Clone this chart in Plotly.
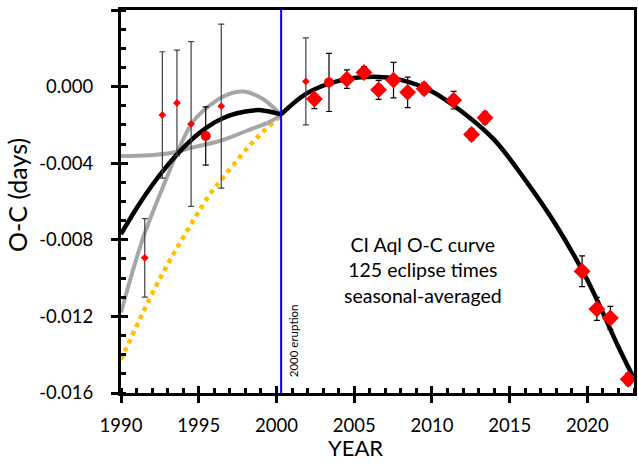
import plotly.graph_objects as go

# ---------------- data ----------------
# small diamonds (older, less precise seasons)
small_year = [1991.53, 1992.66, 1993.60, 1994.51, 1996.45, 2001.89]
small_oc   = [-0.00894, -0.00148, -0.00085, -0.00195, -0.00102, 0.00027]
small_err  = [0.00205, 0.00330, 0.00275, 0.00430, 0.00428, 0.00227]

# circles
circ_year = [1995.45, 2003.38]
circ_oc   = [-0.00258, 0.00022]
circ_err  = [0.00152, 0.00152]

# large diamonds
big_year = [2002.44, 2004.53, 2005.63, 2006.57, 2007.53, 2008.44, 2009.50,
            2011.40, 2012.55, 2013.42, 2019.66, 2020.61, 2021.48, 2022.63]
big_oc   = [-0.00065, 0.00039, 0.00074, -0.00017, 0.00034, -0.00030, -0.00011,
            -0.00071, -0.00250, -0.00163, -0.00964, -0.01161, -0.01208, -0.01528]
big_err  = [0.00050, 0.00048, 0.00030, 0.00050, 0.00093, 0.00080, 0.00030,
            0.00046, 0.00030, 0.00030, 0.00080, 0.00060, 0.00060, 0.00030]

# fitted curves
black_left_year = [1990.0, 1991.0, 1992.0, 1993.0, 1994.0, 1995.0, 1996.0, 1997.0,
                   1998.0, 1999.0, 2000.3]
black_left_oc   = [-0.00770, -0.00635, -0.00515, -0.00410, -0.00320, -0.00245, -0.00188,
                   -0.00150, -0.00130, -0.00123, -0.00145]

black_right_year = [2000.3, 2002.0, 2004.0, 2006.3, 2008.0, 2010.0, 2012.0, 2014.0,
                    2016.0, 2018.0, 2020.0, 2022.0, 2023.0]
black_right_oc   = [-0.00145, -0.00033, 0.00030, 0.00051, 0.00035, -0.00025, -0.00135,
                    -0.00277, -0.00487, -0.00725, -0.01010, -0.01360, -0.01525]

gray_steep_year = [1990.0, 1991.42, 1992.9, 1993.66, 1994.6, 1995.68, 1996.85, 1997.9,
                   1999.08, 2000.3]
gray_steep_oc   = [-0.01180, -0.00790, -0.00484, -0.00336, -0.00187, -0.00100, -0.00042,
                   -0.00026, -0.00062, -0.00148]

gray_flat_year = [1990.0, 1991.8, 1993.3, 1994.6, 1996.5, 1998.2, 1999.5, 2000.3]
gray_flat_oc   = [-0.00362, -0.00358, -0.00345, -0.00318, -0.00280, -0.00227, -0.00187, -0.00148]

orange_year = [1990.0, 1991.21, 1992.51, 1993.66, 1994.85, 1995.79, 1996.53, 1997.6,
               1998.45, 1999.19, 2000.15, 2000.3]
orange_oc   = [-0.01427, -0.01214, -0.01001, -0.00835, -0.00673, -0.00554, -0.00479,
               -0.00371, -0.00292, -0.00231, -0.00161, -0.00148]

ERUPTION_YEAR = 2000.3

y_tickvals = [0.004, 0.0, -0.004, -0.008, -0.012, -0.016]
y_ticktext = ["0.004", "0.000", "-0.004", "-0.008", "-0.012", "-0.016"]
x_tickvals = [1990, 1995, 2000, 2005, 2010, 2015, 2020]
x_ticktext = ["1990", "1995", "2000", "2005", "2010", "2015", "2020"]

X_RANGE = [1990, 2023]
Y_RANGE = [-0.016, 0.004]

FONT = "Lato, 'Open Sans', sans-serif"

# ---------------- figure ----------------
fig = go.Figure()

fig.add_trace(go.Scatter(x=orange_year, y=orange_oc, mode="lines",
                         line=dict(color="#FFC000", width=4.5, dash="dot", shape="spline"),
                         hoverinfo="skip"))
fig.add_trace(go.Scatter(x=gray_flat_year, y=gray_flat_oc, mode="lines",
                         line=dict(color="#A6A6A6", width=4, shape="spline"), hoverinfo="skip"))
fig.add_trace(go.Scatter(x=gray_steep_year, y=gray_steep_oc, mode="lines",
                         line=dict(color="#A6A6A6", width=4, shape="spline"), hoverinfo="skip"))
fig.add_trace(go.Scatter(x=black_left_year, y=black_left_oc, mode="lines",
                         line=dict(color="black", width=4.5, shape="spline"), hoverinfo="skip"))
fig.add_trace(go.Scatter(x=black_right_year, y=black_right_oc, mode="lines",
                         line=dict(color="black", width=4.5, shape="spline"), hoverinfo="skip"))

fig.add_trace(go.Scatter(x=small_year, y=small_oc, mode="markers", cliponaxis=False,
                         marker=dict(symbol="diamond", size=6, color="#FF0000"),
                         error_y=dict(type="data", array=small_err, color="#404040",
                                      thickness=1.2, width=3)))
fig.add_trace(go.Scatter(x=circ_year, y=circ_oc, mode="markers", cliponaxis=False,
                         marker=dict(symbol="circle", size=10, color="#FF0000"),
                         error_y=dict(type="data", array=circ_err, color="black",
                                      thickness=1.2, width=3)))
fig.add_trace(go.Scatter(x=big_year, y=big_oc, mode="markers", cliponaxis=False,
                         marker=dict(symbol="diamond", size=13, color="#FF0000"),
                         error_y=dict(type="data", array=big_err, color="black",
                                      thickness=1.2, width=3)))

# empty trace to activate the overlay axes (inside halves of the crossing major ticks)
fig.add_trace(go.Scatter(x=[], y=[], xaxis="x2", yaxis="y2", showlegend=False))

fig.add_shape(type="line", xref="x", yref="paper", x0=ERUPTION_YEAR, x1=ERUPTION_YEAR,
              y0=0, y1=1, line=dict(color="#0000FF", width=2), layer="above")

axis_common = dict(showgrid=False, zeroline=False)

fig.update_layout(
    width=638, height=464,
    margin=dict(l=121, r=1, t=10, b=71),
    paper_bgcolor="white", plot_bgcolor="white",
    showlegend=False,
    font=dict(family=FONT, color="black"),
    xaxis=dict(range=X_RANGE, tickmode="array", tickvals=x_tickvals, ticktext=x_ticktext,
               ticks="outside", ticklen=7, tickwidth=3, tickcolor="black",
               showline=True, linecolor="black", linewidth=3, mirror=True,
               tickfont=dict(size=18.5, family=FONT, color="black"), ticklabelstandoff=7,
               minor=dict(ticks="inside", dtick=1, tick0=1990, ticklen=5, tickwidth=2.5,
                          tickcolor="black", showgrid=False),
               **axis_common),
    yaxis=dict(range=Y_RANGE, tickmode="array", tickvals=y_tickvals, ticktext=y_ticktext,
               ticks="outside", ticklen=7, tickwidth=3, tickcolor="black",
               showline=True, linecolor="black", linewidth=3, mirror=True,
               tickfont=dict(size=18.5, family=FONT, color="black"), ticklabelstandoff=14,
               minor=dict(ticks="inside", dtick=0.001, tick0=0, ticklen=5, tickwidth=2.5,
                          tickcolor="black", showgrid=False),
               **axis_common),
    xaxis2=dict(overlaying="x", anchor="y2", range=X_RANGE, tickmode="array",
                tickvals=x_tickvals, ticks="inside", ticklen=7, tickwidth=3,
                tickcolor="black", showticklabels=False, showline=False, **axis_common),
    yaxis2=dict(overlaying="y", anchor="x2", range=Y_RANGE, tickmode="array",
                tickvals=y_tickvals, ticks="inside", ticklen=7, tickwidth=3,
                tickcolor="black", showticklabels=False, showline=False, **axis_common),
)

fig.add_annotation(text="CI Aql O-C curve<br>125 eclipse times<br>seasonal-averaged",
                   xref="x", yref="y", x=2009.45, y=-0.00958, showarrow=False,
                   font=dict(size=19.5, family=FONT, color="black"), align="center")
fig.add_annotation(text="2000 eruption", xref="x", yref="y", x=2001.1, y=-0.01327,
                   textangle=-90, showarrow=False,
                   font=dict(size=11.5, family=FONT, color="black"))
fig.add_annotation(text="YEAR", xref="paper", yref="paper", x=0.458, y=0, yanchor="middle",
                   yshift=-54, showarrow=False, font=dict(size=22, family=FONT, color="black"))
fig.add_annotation(text="O-C (days)", xref="paper", yref="paper", x=0, y=0.517,
                   xanchor="center", xshift=-104, textangle=-90, showarrow=False,
                   font=dict(size=25, family=FONT, color="black"))

fig.write_html("out.html")
